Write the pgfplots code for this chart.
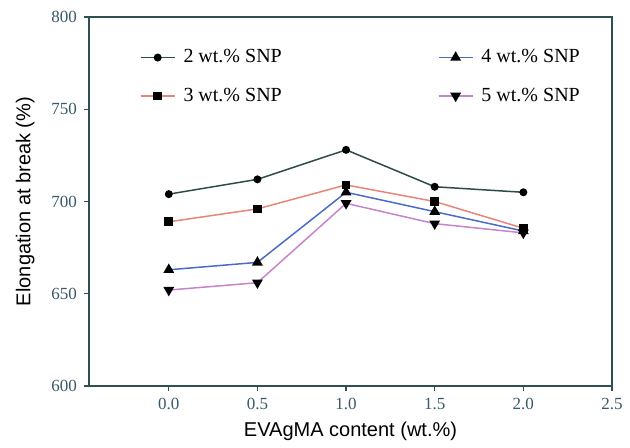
\documentclass[border=0pt]{standalone}
\usepackage{fontspec}
\setmainfont{Liberation Serif}
\setsansfont{Liberation Sans}
\usepackage{pgfplots}
\pgfplotsset{compat=1.18}
\definecolor{axc}{HTML}{2F5050}
\definecolor{tickc}{HTML}{3A5868}
\definecolor{c2}{HTML}{2E4A4A}
\definecolor{c3}{HTML}{E8857A}
\definecolor{c4}{HTML}{4A6CC8}
\definecolor{c5}{HTML}{C884C8}
\begin{document}
\begin{tikzpicture}
\useasboundingbox (-44.5pt,-30.5pt) rectangle (270.5pt,193pt);
\begin{axis}[
  scale only axis, width=261.5pt, height=184.5pt,
  xmin=-0.45, xmax=2.5, ymin=600, ymax=800,
  xtick={0,0.5,1,1.5,2,2.5}, ytick={600,650,700,750,800},
  xticklabel style={/pgf/number format/fixed,/pgf/number format/fixed zerofill,/pgf/number format/precision=1},
  /pgf/number format/assume math mode=true,
  tick label style={font=\fontsize{8.5}{10}\selectfont, text=tickc},
  yticklabel style={/pgf/number format/fixed},
  xtick pos=bottom, ytick pos=left, tick align=outside,
  major tick length=2.5pt,
  axis line style={draw=axc, line width=0.7pt},
  every tick/.style={draw=axc, line width=0.6pt},
  xlabel={EVAgMA content (wt.\%)}, ylabel={Elongation at break (\%)},
  label style={font=\sffamily\fontsize{10}{12}\selectfont},
  xlabel style={at={(axis description cs:0.5,-0.122)}, anchor=center},
  ylabel style={at={(axis description cs:-0.122,0.5)}, anchor=center, rotate=0},
  legend columns=2, transpose legend,
  legend style={at={(axis description cs:0.085,0.935)}, anchor=north west, draw=none, fill=none,
    font=\fontsize{10}{12}\selectfont, row sep=7pt,
    nodes={inner xsep=4pt},
    /tikz/every even column/.append style={column sep=74pt}},
  legend cell align=left,
  every axis plot/.append style={line width=0.75pt},
]
\addplot[c2, mark=*, mark size=1.6pt, mark options={fill=black, draw=black}] coordinates {(0,704) (0.5,712) (1.0,728) (1.5,708) (2.0,705)};
\addlegendentry{2 wt.\% SNP}
\addplot[c3, mark=square*, mark size=1.8pt, mark options={fill=black, draw=black}] coordinates {(0,689) (0.5,696) (1.0,709) (1.5,700) (2.0,685.5)};
\addlegendentry{3 wt.\% SNP}
\addplot[c4, mark=triangle*, mark size=2.4pt, mark options={fill=black, draw=black}] coordinates {(0,663) (0.5,667) (1.0,705) (1.5,694.5) (2.0,684)};
\addlegendentry{4 wt.\% SNP}
\addplot[c5, mark=triangle*, mark size=2.4pt, mark options={fill=black, draw=black, rotate=180}] coordinates {(0,652) (0.5,656) (1.0,699) (1.5,688) (2.0,683)};
\addlegendentry{5 wt.\% SNP}
\end{axis}
\end{tikzpicture}
\end{document}
